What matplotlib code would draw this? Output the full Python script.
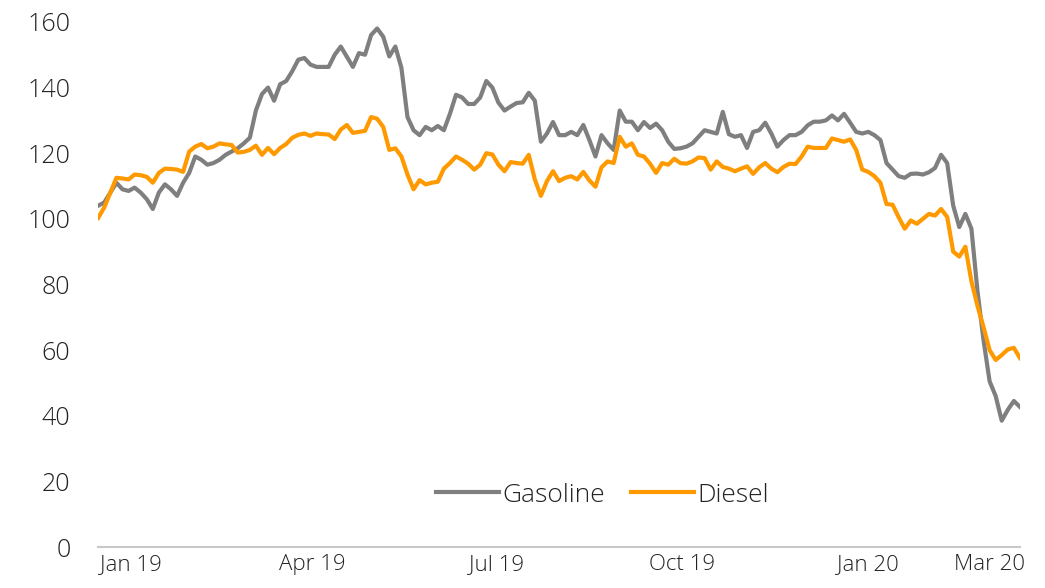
import numpy as np
import pandas as pd
import matplotlib
matplotlib.use('Agg')
import matplotlib.pyplot as plt
import matplotlib.dates as mdates

# index values, sampled every 3 days from mid-Dec 2018
gasoline = [104, 105, 108, 111, 109, 108.5, 109.5, 108, 106, 103,
            108, 110.5, 109, 107, 111, 114, 119, 118, 116.5, 117,
            118, 119.5, 120.5, 121.5, 123, 124.7, 133, 138, 140, 136,
            141, 142, 145, 148.5, 149, 147, 146.3, 146.3, 146.3, 150,
            152.5, 149.4, 146.3, 150.5, 150, 156, 158, 155.5, 149.5, 152.5,
            146, 131, 127, 125.5, 128, 127, 128.3, 127, 132, 137.8,
            137, 135, 135, 137, 142, 140, 135.4, 133, 134.2, 135.3,
            135.5, 138.4, 136, 123.5, 126, 129.5, 125.5, 125.5, 126.5, 125.5,
            128.6, 124, 119, 125.5, 123, 121, 133, 129.6, 129.6, 127,
            129.5, 127.7, 129, 127, 123.5, 121.3, 121.5, 122, 123, 125,
            127, 126.5, 126, 132.6, 125.8, 125, 125.5, 121.6, 126.5, 127,
            129.3, 126, 122, 124, 125.5, 125.5, 126.5, 128.5, 129.6, 129.6,
            130, 131.5, 130, 132, 129.3, 126.5, 126, 126.5, 125.5, 124,
            117, 115, 113, 112.5, 113.7, 113.8, 113.5, 114.2, 115.5, 119.5,
            117, 104, 97.5, 101.5, 97, 78, 63, 50.5, 46, 38.5,
            41.8, 44.5, 42.7]

diesel = [100.3, 103.5, 108, 112.5, 112.3, 112, 113.5, 113.3, 112.8, 111,
          114, 115.3, 115.2, 115, 114.3, 120.5, 122, 122.8, 121.5, 122,
          123, 122.7, 122.5, 120.2, 120.4, 121, 122.3, 119.5, 121.6, 119.7,
          121.6, 122.8, 124.7, 125.6, 126, 125.3, 126, 125.8, 125.7, 124.3,
          127.2, 128.6, 126.2, 126.5, 126.8, 131, 130.5, 128, 121, 121.5,
          119, 113.5, 109, 111.8, 110.5, 111, 111.3, 115.3, 117, 119,
          118, 116.8, 115, 116.5, 120, 119.6, 116.5, 114.5, 117.3, 117,
          116.8, 119.5, 112, 107, 111.5, 114.5, 111.5, 112.5, 113, 112,
          114.3, 111.7, 109.8, 115.7, 117.5, 117, 125, 122, 123, 119.5,
          119, 116.8, 114, 117, 116.5, 118.3, 117, 116.8, 117.5, 118.7,
          118.5, 115, 117.5, 115.8, 115.3, 114.5, 115.3, 116, 113.7, 115.7,
          117, 115.3, 114.2, 115.8, 116.8, 116.7, 119, 122, 121.6, 121.6,
          121.6, 124.5, 124, 123.5, 124.2, 121, 115, 114.3, 113, 111,
          104.5, 104.3, 100.5, 97, 99.5, 98.5, 100, 101.5, 101, 103,
          100.6, 90, 88.5, 91.5, 81, 73.5, 67, 60, 57, 58.5,
          60.2, 60.7, 57.6]

dates = pd.date_range('2018-12-16', periods=len(gasoline), freq='3D')

tick_dates = pd.to_datetime(['2019-01-01', '2019-04-01', '2019-07-01',
                             '2019-10-01', '2020-01-01', '2020-03-01'])
tick_labels = ['Jan 19', 'Apr 19', 'Jul 19', 'Oct 19', 'Jan 20', 'Mar 20']

plt.rcParams['font.family'] = ['Open Sans', 'DejaVu Sans']

fig = plt.figure(figsize=(10.45, 5.88), dpi=100)
ax = fig.add_axes([0.094, 0.0697, 0.882, 0.893])

ax.plot(dates, gasoline, color='#7f7f7f', lw=3, label='Gasoline', solid_joinstyle='round')
ax.plot(dates, diesel, color='#ff9900', lw=3, label='Diesel', solid_joinstyle='round')

ax.set_ylim(0, 160)
ax.set_yticks(np.arange(0, 161, 20))
ax.set_xlim(dates[0], dates[-1])
ax.set_xticks(tick_dates)
ax.set_xticklabels(tick_labels)

for s in ['left', 'right', 'top']:
    ax.spines[s].set_visible(False)
ax.spines['bottom'].set_color('#c8c8c8')
ax.spines['bottom'].set_linewidth(1.5)

ax.tick_params(axis='y', length=0, pad=20, labelsize=18, labelcolor='#222222')
ax.tick_params(axis='x', length=0, pad=5, labelsize=16, labelcolor='#222222')
for t in ax.get_yticklabels() + ax.get_xticklabels():
    t.set_fontweight('light')

leg = ax.legend(loc='center', bbox_to_anchor=(0.547, 0.099), ncol=2, frameon=False,
                fontsize=19, handlelength=2.4, handletextpad=0.1, columnspacing=1.0)
for t in leg.get_texts():
    t.set_color('#222222')
    t.set_fontweight('light')

plt.savefig('out.png', dpi=100)
plt.close(fig)
